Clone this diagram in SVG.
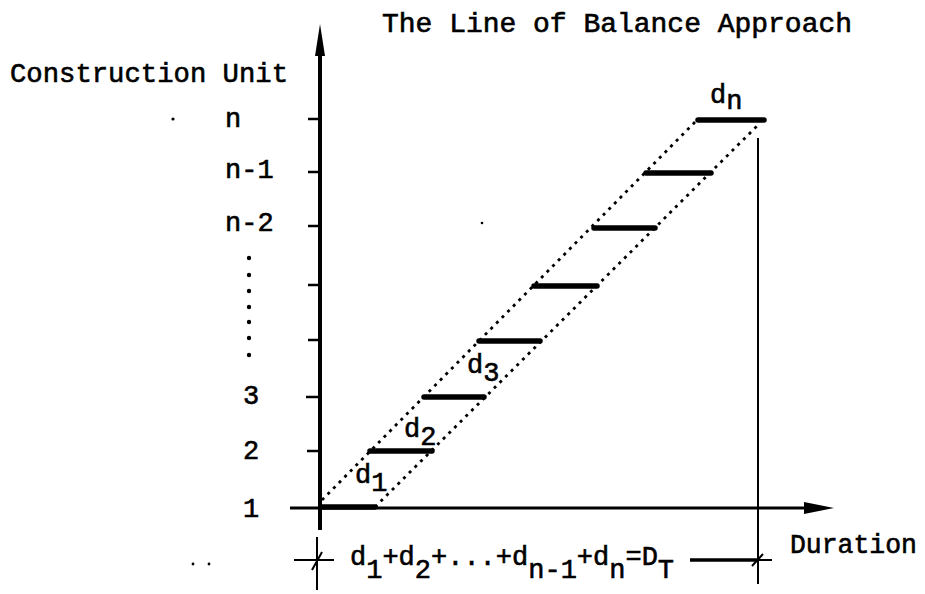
<svg xmlns="http://www.w3.org/2000/svg" width="925" height="594" viewBox="0 0 925 594">
<style>
text{font-family:"Liberation Mono","Courier New",monospace;font-size:27px;fill:#000;stroke:#000;stroke-width:0.6}
.ax{stroke:#000;fill:none;stroke-linecap:butt}
.tick{stroke:#000;stroke-width:2.5}
.bar{stroke:#000;stroke-width:5.5;stroke-linecap:round}
.dot{stroke:#000;stroke-width:2.8;stroke-dasharray:3 5;fill:none}
.thin{stroke:#000;stroke-width:2;fill:none}
</style>
<rect width="925" height="594" fill="#fff"/>
<g id="title"><text x="382" y="32" textLength="470" lengthAdjust="spacingAndGlyphs">The Line of Balance Approach</text></g>
<g id="axes">
<line class="ax" x1="320" y1="530" x2="320" y2="52" stroke-width="4"/>
<polygon points="320,24 315,56 325,56" fill="#000"/>
<line class="ax" x1="290" y1="508" x2="808" y2="508" stroke-width="3"/>
<polygon points="834,508 804,502 804,514" fill="#000"/>
<text x="10" y="82" textLength="278" lengthAdjust="spacingAndGlyphs">Construction Unit</text>
<text x="790" y="553" textLength="127" lengthAdjust="spacingAndGlyphs">Duration</text>
</g>
<g id="ticks">
<line class="tick" x1="308" y1="119" x2="320" y2="119"/>
<line class="tick" x1="308" y1="172" x2="320" y2="172"/>
<line class="tick" x1="308" y1="226" x2="320" y2="226"/>
<line class="tick" x1="308" y1="285" x2="320" y2="285"/>
<line class="tick" x1="308" y1="340" x2="320" y2="340"/>
<line class="tick" x1="306" y1="397" x2="320" y2="397"/>
<line class="tick" x1="307" y1="451" x2="320" y2="451"/>
</g>
<g id="unit-labels">
<text x="225" y="127">n</text>
<text x="225" y="178">n-1</text>
<text x="225" y="231">n-2</text>
<text x="243" y="404">3</text>
<text x="243" y="459">2</text>
<text x="243" y="517">1</text>
<g fill="#000">
<circle cx="249" cy="258" r="2.2"/><circle cx="249" cy="275" r="2.2"/><circle cx="249" cy="291" r="2.2"/><circle cx="249" cy="307" r="2.2"/><circle cx="249" cy="322" r="2.2"/><circle cx="249" cy="338" r="2.2"/><circle cx="249" cy="355" r="2.2"/>
<circle cx="173" cy="119" r="1.6"/><circle cx="193" cy="564" r="1.4"/><circle cx="209" cy="564" r="1.4"/><circle cx="482" cy="223" r="1.3"/>
</g>
</g>
<g id="connectors">
<line class="dot" x1="322" y1="500" x2="697" y2="120"/>
<line class="dot" x1="375" y1="507" x2="757" y2="126"/>
</g>
<g id="bars">
<line class="bar" x1="321" y1="507" x2="375" y2="507"/>
<line class="bar" x1="370" y1="451" x2="432" y2="451"/>
<line class="bar" x1="424" y1="397" x2="484" y2="397"/>
<line class="bar" x1="479" y1="341" x2="540" y2="341"/>
<line class="bar" x1="534" y1="286" x2="597" y2="286"/>
<line class="bar" x1="594" y1="228" x2="655" y2="228"/>
<line class="bar" x1="646" y1="173" x2="711" y2="173"/>
<line class="bar" x1="698" y1="120" x2="764" y2="120"/>
</g>
<g id="d-labels">
<text x="355" y="483">d<tspan dy="8">1</tspan></text>
<text x="404" y="437">d<tspan dy="8">2</tspan></text>
<text x="467" y="373">d<tspan dy="8">3</tspan></text>
<text x="710" y="103">d<tspan dy="6">n</tspan></text>
</g>
<g id="total-duration">
<line class="thin" x1="758" y1="138" x2="758" y2="584"/>
<line class="thin" x1="294" y1="560" x2="334" y2="560"/>
<line class="thin" x1="317" y1="537" x2="317" y2="590"/>
<line class="thin" x1="312" y1="570" x2="322" y2="552"/>
<line x1="690" y1="560" x2="758" y2="560" stroke="#000" stroke-width="3.5"/>
<line class="thin" x1="758" y1="560" x2="772" y2="560"/>
<line class="thin" x1="752" y1="566" x2="763" y2="554"/>
<text x="350" y="565">d<tspan dy="13">1</tspan><tspan dy="-13">+d</tspan><tspan dy="13">2</tspan><tspan dy="-13">+...+d</tspan><tspan dy="13">n-1</tspan><tspan dy="-13">+d</tspan><tspan dy="13">n</tspan><tspan dy="-13">=D</tspan><tspan dy="13">T</tspan></text>
</g>
</svg>
